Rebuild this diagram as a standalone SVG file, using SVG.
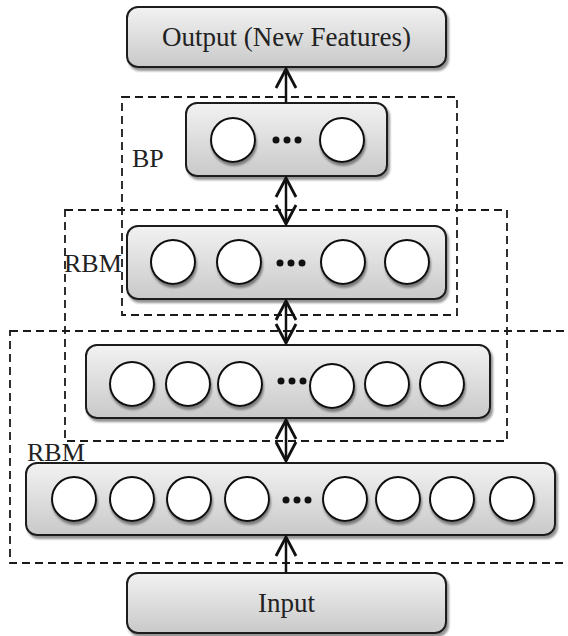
<svg xmlns="http://www.w3.org/2000/svg" width="568" height="636" viewBox="0 0 568 636">
<style>
.box{fill:url(#g);stroke:#1a1a1a;stroke-width:2;filter:url(#sh)}
.c{fill:#fff;stroke:#111;stroke-width:2;filter:url(#sh2)}
.dot{fill:#111}
.dash{fill:none;stroke:#1a1a1a;stroke-width:1.8;stroke-dasharray:8 5}
.t{font-family:"Liberation Serif","Times New Roman",serif;font-size:27px;fill:#222;text-anchor:middle}
.lbl{font-family:"Liberation Serif","Times New Roman",serif;font-size:26px;fill:#222}
.arr{stroke:#111;stroke-width:2.5;fill:none;marker-end:url(#ah)}
.darr{stroke:#111;stroke-width:2.5;fill:none;marker-end:url(#ah);marker-start:url(#ahs)}
</style>
<defs>
<linearGradient id="g" x1="0" y1="0" x2="0" y2="1">
<stop offset="0" stop-color="#f2f2f2"/>
<stop offset="1" stop-color="#c9c9c9"/>
</linearGradient>
<filter id="sh" x="-10%" y="-10%" width="120%" height="130%">
<feDropShadow dx="2" dy="3" stdDeviation="1.2" flood-color="#777" flood-opacity="0.8"/>
</filter>
<filter id="sh2" x="-20%" y="-20%" width="140%" height="150%">
<feDropShadow dx="1" dy="3" stdDeviation="1" flood-color="#666" flood-opacity="0.8"/>
</filter>
<marker id="ah" markerUnits="userSpaceOnUse" viewBox="-22 -12 24 24" refX="0" refY="0" markerWidth="24" markerHeight="24" orient="auto">
<path d="M-19,-10 L0,0 L-19,10" fill="none" stroke="#111" stroke-width="2.8"/>
</marker>
<marker id="ahs" markerUnits="userSpaceOnUse" viewBox="-22 -12 24 24" refX="0" refY="0" markerWidth="24" markerHeight="24" orient="auto-start-reverse">
<path d="M-19,-10 L0,0 L-19,10" fill="none" stroke="#111" stroke-width="2.8"/>
</marker>
</defs>

<g id="groups">
<rect class="dash" x="122" y="97" width="335" height="218"/>
<rect class="dash" x="65" y="210" width="442" height="231"/>
<rect class="dash" x="10" y="331" width="570" height="232"/>
<text class="lbl" x="132" y="167">BP</text>
<text class="lbl" x="64" y="272">RBM</text>
<text class="lbl" x="27" y="461">RBM</text>
</g>

<g id="output">
<rect class="box" x="127" y="7" width="319" height="60" rx="11"/>
<text class="t" x="286.5" y="46">Output (New Features)</text>
</g>

<g id="bp">
<rect class="box" x="186" y="103" width="201" height="73" rx="11"/>
<circle class="c" cx="233" cy="140" r="22"/>
<circle class="c" cx="342" cy="140" r="22"/>
<circle class="dot" cx="276" cy="140" r="3.5"/>
<circle class="dot" cx="287" cy="140" r="3.5"/>
<circle class="dot" cx="298" cy="140" r="3.5"/>
</g>

<g id="rbm1">
<rect class="box" x="127" y="226" width="319" height="73" rx="11"/>
<circle class="c" cx="173" cy="262" r="22"/>
<circle class="c" cx="239" cy="262" r="22"/>
<circle class="c" cx="343" cy="262" r="22"/>
<circle class="c" cx="407" cy="262" r="22"/>
<circle class="dot" cx="280" cy="263" r="3.5"/>
<circle class="dot" cx="291" cy="263" r="3.5"/>
<circle class="dot" cx="302" cy="263" r="3.5"/>
</g>

<g id="hidden">
<rect class="box" x="86" y="345" width="404" height="73" rx="11"/>
<circle class="c" cx="132" cy="384" r="22"/>
<circle class="c" cx="188" cy="384" r="22"/>
<circle class="c" cx="240" cy="384" r="22"/>
<circle class="c" cx="332" cy="386" r="22"/>
<circle class="c" cx="387" cy="384" r="22"/>
<circle class="c" cx="442" cy="384" r="22"/>
<circle class="dot" cx="281" cy="381" r="3.5"/>
<circle class="dot" cx="292" cy="381" r="3.5"/>
<circle class="dot" cx="303" cy="381" r="3.5"/>
</g>

<g id="visible">
<rect class="box" x="26" y="463" width="529" height="72" rx="11"/>
<circle class="c" cx="74" cy="499" r="22"/>
<circle class="c" cx="132" cy="499" r="22"/>
<circle class="c" cx="189" cy="499" r="22"/>
<circle class="c" cx="247" cy="499" r="22"/>
<circle class="c" cx="345" cy="499" r="22"/>
<circle class="c" cx="398" cy="499" r="22"/>
<circle class="c" cx="452" cy="499" r="22"/>
<circle class="c" cx="512" cy="499" r="22"/>
<circle class="dot" cx="286" cy="500" r="3.5"/>
<circle class="dot" cx="297" cy="500" r="3.5"/>
<circle class="dot" cx="308" cy="500" r="3.5"/>
</g>

<g id="input">
<rect class="box" x="127" y="573" width="319" height="60" rx="11"/>
<text class="t" x="286.5" y="612">Input</text>
</g>

<g id="connectors">
<line class="arr" x1="286" y1="103" x2="286" y2="69"/>
<line class="darr" x1="286" y1="178" x2="286" y2="224"/>
<line class="darr" x1="286" y1="301" x2="286" y2="343"/>
<line class="darr" x1="286" y1="420" x2="286" y2="461"/>
<line class="arr" x1="286" y1="573" x2="286" y2="537"/>
</g>
</svg>
